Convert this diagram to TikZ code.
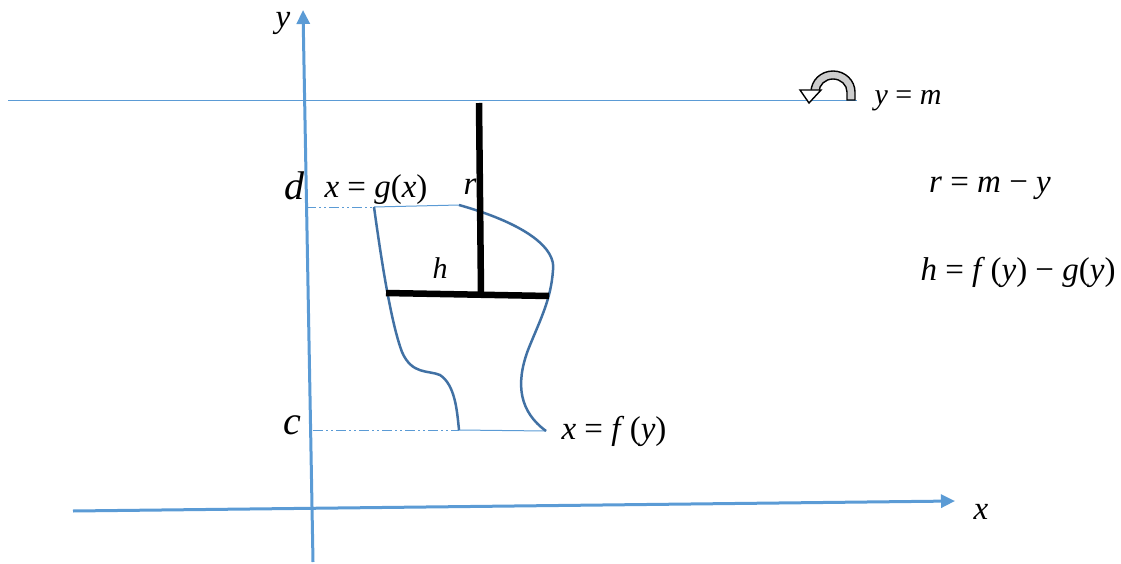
\documentclass[tikz,border=0pt]{standalone}
\usepackage{fontspec}
\setmainfont{Liberation Serif}
\usetikzlibrary{arrows.meta}
\definecolor{axisblue}{RGB}{91,155,213}
\definecolor{curveblue}{RGB}{65,113,164}
\begin{document}
\begin{tikzpicture}[x=1pt,y=-1pt,
  axis/.style={axisblue,line width=3pt,-{Triangle[length=14pt,width=13pt]}},
  thinblue/.style={axisblue,line width=1pt},
  dashblue/.style={axisblue,line width=1pt,dash pattern=on 10pt off 3pt on 2pt off 3pt on 2pt off 3pt},
  curve/.style={curveblue,line width=2.5pt},
  bar/.style={black,line width=6.5pt},
  lab/.style={font=\fontsize{33}{36}\selectfont,inner sep=0pt},
  small/.style={font=\fontsize{30}{32}\selectfont,inner sep=0pt},
  big/.style={font=\fontsize{40}{42}\selectfont,inner sep=0pt}]
\useasboundingbox (0,0) rectangle (1121,564);
% axes
\coordinate (ybot) at (313,562);
\coordinate (ytop) at (303,10);
\coordinate (xl) at (73,511);
\coordinate (xr) at (955,501);
\draw[axis] (ybot) -- (ytop);
\draw[axis] (xl) -- (xr);
% line y=m
\coordinate (ml) at (8,101);
\coordinate (mr) at (857,101);
\draw[thinblue] (ml) -- (mr);
% rotation arrow
\fill[gray!40,draw=black,line width=1.4pt] (855,100) -- (855,92)
  arc[start angle=0,end angle=-180,x radius=22,y radius=21] -- (819,92)
  arc[start angle=-180,end angle=0,x radius=14,y radius=13] -- (847,100) -- cycle;
\filldraw[fill=white,draw=black,line width=1.4pt] (800,90) -- (809,103) -- (821,90) -- cycle;
% boundary lines d and c
\coordinate (dy) at (306,207);
\coordinate (dg) at (374,207);
\coordinate (df) at (459,205);
\draw[dashblue] (dy) -- (dg);
\draw[thinblue] (dg) -- (df);
\coordinate (cy) at (313,430);
\coordinate (cg) at (459,430);
\coordinate (cf) at (546,431);
\draw[dashblue] (cy) -- (cg);
\draw[thinblue] (cg) -- (cf);
% curve g
\draw[curve] (dg) .. controls (380,250) and (390,320) .. (402,352)
  .. controls (412,375) and (428,370) .. (440,375)
  .. controls (455,385) and (457,410) .. (cg);
% curve f
\draw[curve] (df) .. controls (530,225) and (556,250) .. (553,270)
  .. controls (551,300) and (540,320) .. (528,350)
  .. controls (515,385) and (520,412) .. (cf);
% radius and height bars
\coordinate (rtop) at (479,103);
\coordinate (rbot) at (481,293);
\coordinate (hl) at (386,293);
\coordinate (hr) at (549,296);
\draw[bar] (rtop) -- (rbot);
\draw[bar,line cap=butt] (hl) -- (hr);
% labels
\node[lab] (ylab) at (283,23) {\textit{y}};
\node[lab] (xlab) at (981,512) {\textit{x}};
\node[big] (dlab) at (295,186) {\textit{d}};
\node[big] (clab) at (292,425) {\textit{c}};
\node[lab] (glab) at (376,190) {\textit{x} = \textit{g}(\textit{x})};
\node[lab] (rlab) at (470,187) {\textit{r}};
\node[small] (hlab) at (440,268) {\textit{h}};
\node[small] (mlab) at (908,101) {\textit{y} = \textit{m}};
\node[lab] (flab) at (614,431) {\textit{x} = \textit{f}\,(\textit{y})};
\node[lab] (rm) at (990,188) {\textit{r} = \textit{m} − \textit{y}};
\node[lab] (hf) at (1018,272) {\textit{h} = \textit{f}\,(\textit{y}) − \textit{g}(\textit{y})};
\end{tikzpicture}
\end{document}
